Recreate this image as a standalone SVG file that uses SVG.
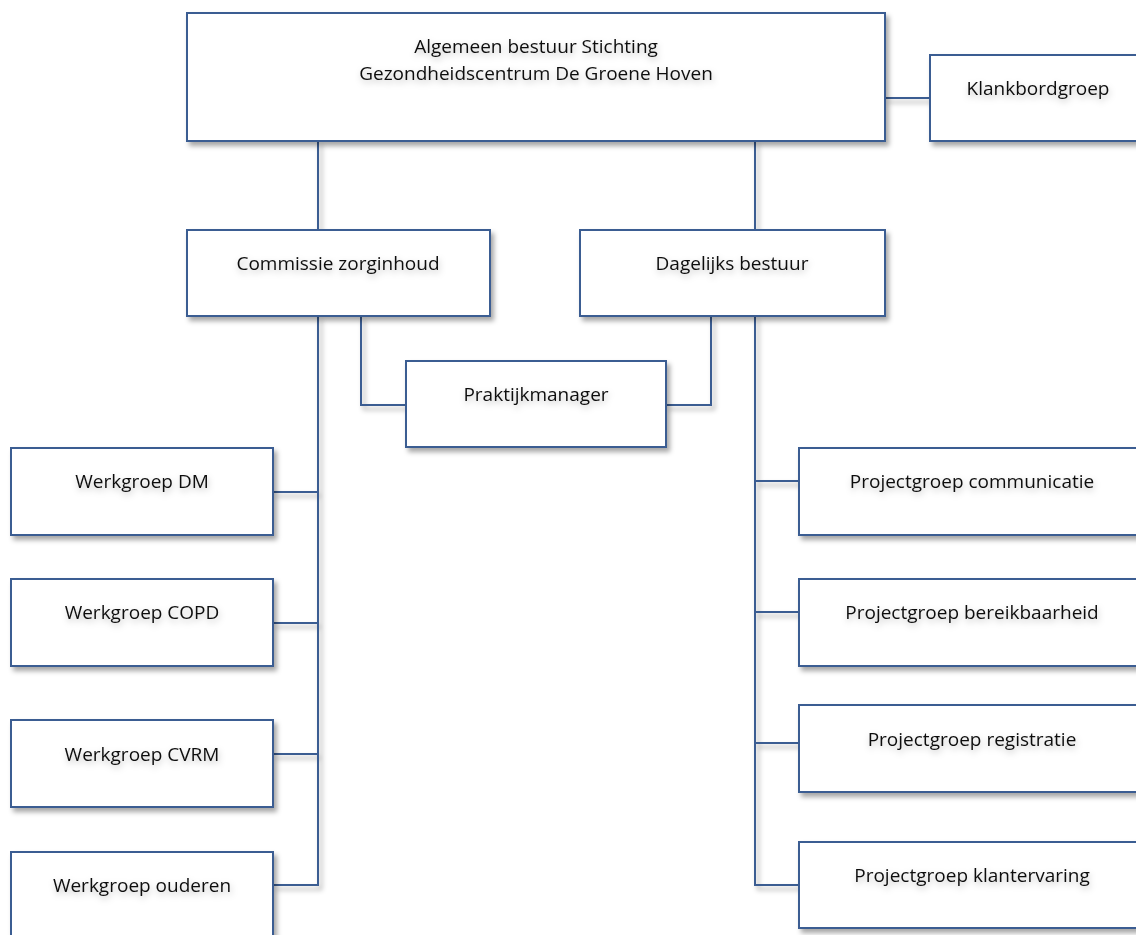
<svg xmlns="http://www.w3.org/2000/svg" width="1136" height="935" viewBox="0 0 1136 935">
<defs>
<filter id="sh" x="-5%" y="-5%" width="115%" height="130%">
<feDropShadow dx="3" dy="4" stdDeviation="2.5" flood-color="#000" flood-opacity="0.35"/>
</filter>
<filter id="ts" x="-10%" y="-30%" width="120%" height="180%">
<feDropShadow dx="1" dy="3" stdDeviation="3" flood-color="#000" flood-opacity="0.25"/>
</filter>
<style>
.box{fill:#fff;stroke:#3a5d92;stroke-width:2}
.ln{fill:none;stroke:#3a5d92;stroke-width:2}
.t{font-family:"Open Sans","Liberation Sans",sans-serif;font-size:19px;fill:#111;text-anchor:middle}
</style>
</defs>
<rect width="1136" height="935" fill="#fff"/>
<g id="connectors" filter="url(#sh)">
<path class="ln" d="M885 98H930"/>
<path class="ln" d="M318 141V230M755 141V230"/>
<path class="ln" d="M361 316V405H406M711 316V405H666"/>
<path class="ln" d="M318 316V885H273M318 492H273M318 623H273M318 754H273"/>
<path class="ln" d="M755 316V885H799M755 481H799M755 612H799M755 743H799"/>
</g>
<g id="n-top"><rect class="box" x="187" y="13" width="698" height="128" filter="url(#sh)"/>
<text class="t" x="536" y="53" filter="url(#ts)">Algemeen bestuur Stichting</text>
<text class="t" x="536" y="80" filter="url(#ts)">Gezondheidscentrum De Groene Hoven</text></g>
<g id="n-klank"><rect class="box" x="930" y="55" width="220" height="86" filter="url(#sh)"/>
<text class="t" x="1038" y="95" filter="url(#ts)">Klankbordgroep</text></g>
<g id="n-commissie"><rect class="box" x="187" y="230" width="303" height="86" filter="url(#sh)"/>
<text class="t" x="338" y="270" filter="url(#ts)">Commissie zorginhoud</text></g>
<g id="n-dagelijks"><rect class="box" x="580" y="230" width="305" height="86" filter="url(#sh)"/>
<text class="t" x="732" y="270" filter="url(#ts)">Dagelijks bestuur</text></g>
<g id="n-praktijk"><rect class="box" x="406" y="361" width="260" height="86" filter="url(#sh)"/>
<text class="t" x="536" y="401" filter="url(#ts)">Praktijkmanager</text></g>
<g id="n-dm"><rect class="box" x="11" y="448" width="262" height="87" filter="url(#sh)"/>
<text class="t" x="142" y="488" filter="url(#ts)">Werkgroep DM</text></g>
<g id="n-copd"><rect class="box" x="11" y="579" width="262" height="87" filter="url(#sh)"/>
<text class="t" x="142" y="619" filter="url(#ts)">Werkgroep COPD</text></g>
<g id="n-cvrm"><rect class="box" x="11" y="720" width="262" height="87" filter="url(#sh)"/>
<text class="t" x="142" y="761" filter="url(#ts)">Werkgroep CVRM</text></g>
<g id="n-ouderen"><rect class="box" x="11" y="852" width="262" height="100" filter="url(#sh)"/>
<text class="t" x="142" y="892" filter="url(#ts)">Werkgroep ouderen</text></g>
<g id="n-comm"><rect class="box" x="799" y="448" width="350" height="87" filter="url(#sh)"/>
<text class="t" x="972" y="488" filter="url(#ts)">Projectgroep communicatie</text></g>
<g id="n-bereik"><rect class="box" x="799" y="579" width="350" height="87" filter="url(#sh)"/>
<text class="t" x="972" y="619" filter="url(#ts)">Projectgroep bereikbaarheid</text></g>
<g id="n-reg"><rect class="box" x="799" y="705" width="350" height="87" filter="url(#sh)"/>
<text class="t" x="972" y="746" filter="url(#ts)">Projectgroep registratie</text></g>
<g id="n-klant"><rect class="box" x="799" y="842" width="350" height="86" filter="url(#sh)"/>
<text class="t" x="972" y="882" filter="url(#ts)">Projectgroep klantervaring</text></g>
</svg>
